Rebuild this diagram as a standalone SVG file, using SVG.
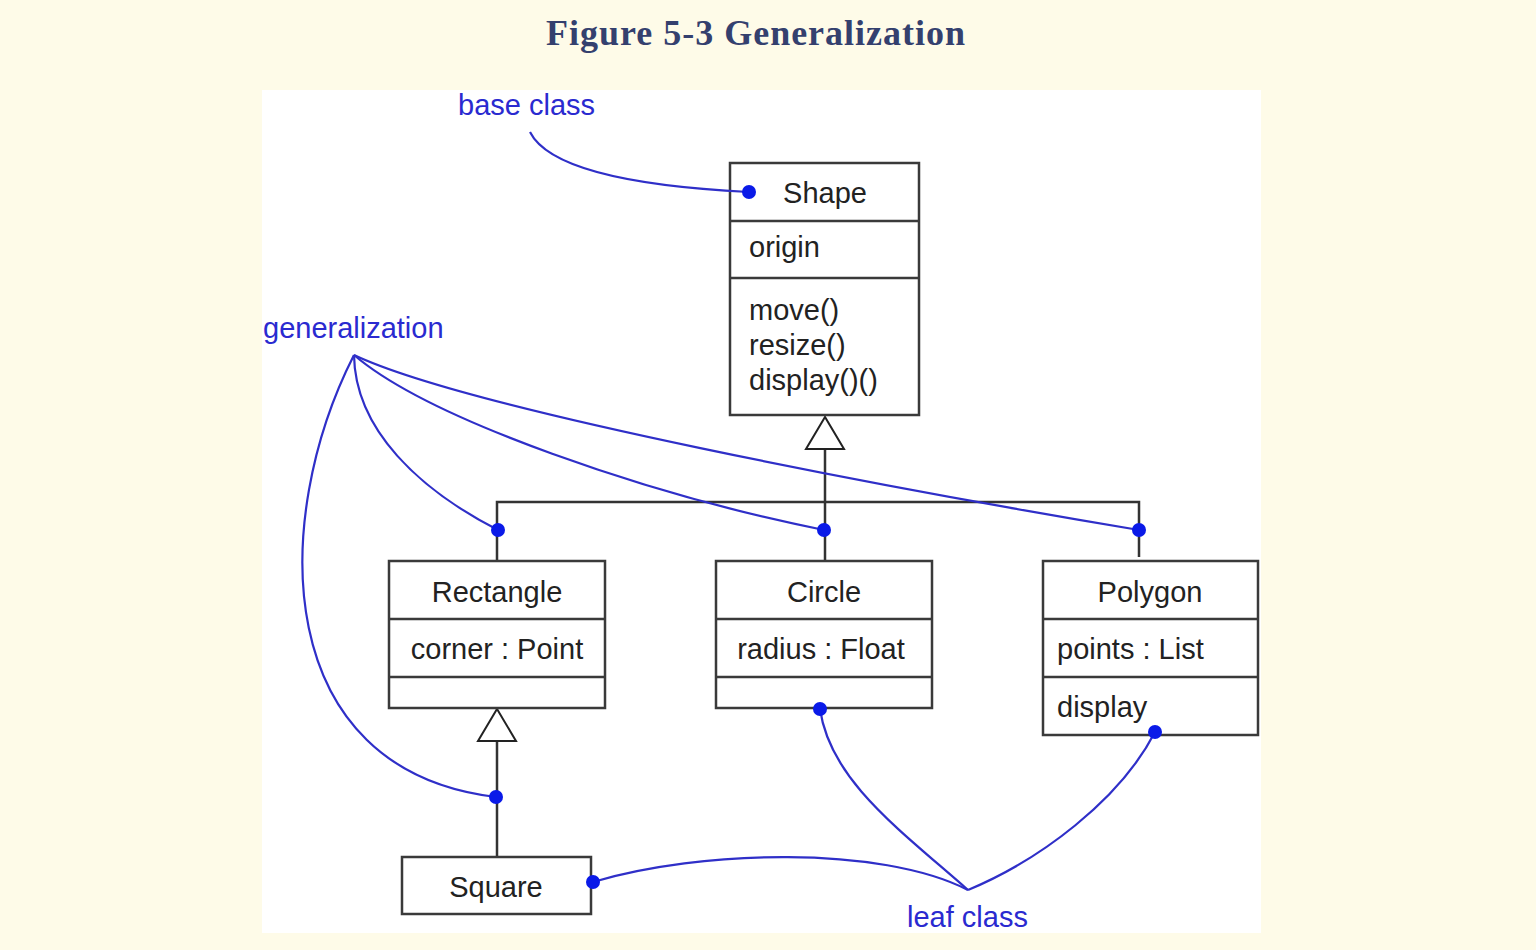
<svg xmlns="http://www.w3.org/2000/svg" width="1536" height="950" viewBox="0 0 1536 950">
<style>
.box{fill:#fff;stroke:#3a3a3a;stroke-width:2.5}
.div{stroke:#3a3a3a;stroke-width:2.5}
.ln{stroke:#333;stroke-width:2.5;fill:none}
.tri{fill:#fff;stroke:#222;stroke-width:2}
.t{font-family:"Liberation Sans",Arial,sans-serif;font-size:29px;fill:#222}
.c{text-anchor:middle}
.note{font-family:"Liberation Sans",Arial,sans-serif;font-size:29px;fill:#2a2ad0}
.blue{stroke:#2f2fc8;stroke-width:2.2;fill:none}
.dot{fill:#0a1ae8}
.title{font-family:"Liberation Serif","Times New Roman",serif;font-weight:bold;font-size:36px;fill:#34406e}
</style>
<rect x="0" y="0" width="1536" height="950" fill="#fefbe8"/>
<text class="title" x="546" y="45" textLength="419" lengthAdjust="spacing">Figure 5-3 Generalization</text>
<rect x="262" y="90" width="999" height="843" fill="#fff"/>

<g id="connectors">
  <path class="ln" d="M825,449 V561"/>
  <path class="ln" d="M497,561 V502 H1139 V557"/>
  <path class="ln" d="M497,741 V857"/>
  <polygon class="tri" points="825,417 806,449 844,449"/>
  <polygon class="tri" points="497,709 478,741 516,741"/>
</g>

<g id="shape">
  <rect class="box" x="730" y="163" width="189" height="252"/>
  <line class="div" x1="730" y1="221" x2="919" y2="221"/>
  <line class="div" x1="730" y1="278" x2="919" y2="278"/>
  <text class="t" x="825" y="203" text-anchor="middle">Shape</text>
  <text class="t" x="749" y="257">origin</text>
  <text class="t" x="749" y="320">move()</text>
  <text class="t" x="749" y="355">resize()</text>
  <text class="t" x="749" y="390">display()()</text>
</g>

<g id="rectangle">
  <rect class="box" x="389" y="561" width="216" height="147"/>
  <line class="div" x1="389" y1="619" x2="605" y2="619"/>
  <line class="div" x1="389" y1="677" x2="605" y2="677"/>
  <text class="t c" x="497" y="602">Rectangle</text>
  <text class="t c" x="497" y="659">corner : Point</text>
</g>

<g id="circle">
  <rect class="box" x="716" y="561" width="216" height="147"/>
  <line class="div" x1="716" y1="619" x2="932" y2="619"/>
  <line class="div" x1="716" y1="677" x2="932" y2="677"/>
  <text class="t c" x="824" y="602">Circle</text>
  <text class="t c" x="821" y="659">radius : Float</text>
</g>

<g id="polygon">
  <rect class="box" x="1043" y="561" width="215" height="174"/>
  <line class="div" x1="1043" y1="619" x2="1258" y2="619"/>
  <line class="div" x1="1043" y1="677" x2="1258" y2="677"/>
  <text class="t c" x="1150" y="602">Polygon</text>
  <text class="t" x="1057" y="659">points : List</text>
  <text class="t" x="1057" y="717">display</text>
</g>

<g id="square">
  <rect class="box" x="402" y="857" width="189" height="57"/>
  <text class="t c" x="496" y="897">Square</text>
</g>

<g id="notes">
  <text class="note" x="458" y="115">base class</text>
  <text class="note" x="263" y="338">generalization</text>
  <text class="note" x="907" y="927">leaf class</text>
  <path class="blue" d="M530,132 C548,168 630,186 749,192"/>
  <path class="blue" d="M354,355 C355,430 420,490 498,530"/>
  <path class="blue" d="M354,355 C430,420 650,495 824,530"/>
  <path class="blue" d="M354,355 C470,410 900,490 1139,530"/>
  <path class="blue" d="M354,355 C270,520 270,770 496,797"/>
  <path class="blue" d="M820,709 C830,780 900,830 968,890"/>
  <path class="blue" d="M1155,732 C1120,800 1040,860 968,890"/>
  <path class="blue" d="M593,882 C700,850 880,845 968,890"/>
  <circle class="dot" cx="749" cy="192" r="7"/>
  <circle class="dot" cx="498" cy="530" r="7"/>
  <circle class="dot" cx="824" cy="530" r="7"/>
  <circle class="dot" cx="1139" cy="530" r="7"/>
  <circle class="dot" cx="496" cy="797" r="7"/>
  <circle class="dot" cx="820" cy="709" r="7"/>
  <circle class="dot" cx="1155" cy="732" r="7"/>
  <circle class="dot" cx="593" cy="882" r="7"/>
</g>
</svg>
